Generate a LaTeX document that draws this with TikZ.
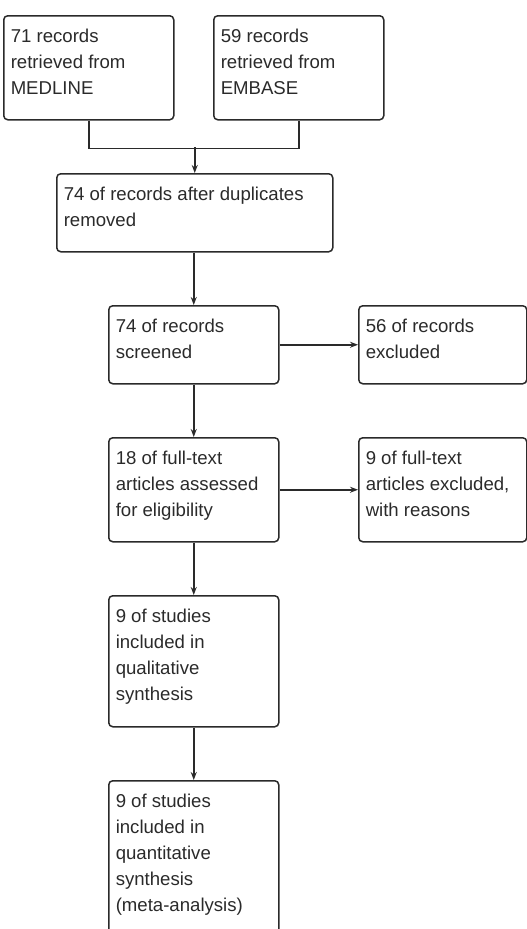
\documentclass[tikz,border=0pt]{standalone}
\usepackage{fontspec}
\setmainfont{Liberation Sans}
\usetikzlibrary{arrows.meta}
\definecolor{ink}{HTML}{2A2A2A}
\newcommand{\bxt}[3]{\parbox[c][#2][t]{#1}{\raggedright\setlength{\leftskip}{7pt}\fontsize{18.6}{26}\selectfont\rule{0pt}{27pt}#3}}
\tikzset{
  box/.style={draw=ink, text=ink, rounded corners=4pt, inner sep=0pt, anchor=north west, line width=1.5pt},
  conn/.style={draw=ink, line width=1.5pt},
  arr/.style={conn, -{Stealth[length=8pt,width=6pt]}}
}
\begin{document}
\begin{tikzpicture}[x=1pt,y=-1pt]
\useasboundingbox (0,0) rectangle (527,929);
\node[box] (b1) at (3,15) {\bxt{170pt}{104pt}{71 records\\retrieved from\\MEDLINE}};
\node[box] (b2) at (213,15) {\bxt{170pt}{104pt}{59 records\\retrieved from\\EMBASE}};
\node[box] (b3) at (56,173) {\bxt{276pt}{78pt}{74 of records after duplicates\\removed}};
\node[box] (b4) at (108,305) {\bxt{170pt}{78pt}{74 of records\\screened}};
\node[box] (b5) at (358,305) {\bxt{168pt}{78pt}{56 of records\\excluded}};
\node[box] (b6) at (108,437) {\bxt{170pt}{104pt}{18 of full-text\\articles assessed\\for eligibility}};
\node[box] (b7) at (358,437) {\bxt{168pt}{104pt}{9 of full-text\\articles excluded,\\with reasons}};
\node[box] (b8) at (108,595) {\bxt{170pt}{131pt}{9 of studies\\included in\\qualitative\\synthesis}};
\node[box] (b9) at (108,780) {\bxt{170pt}{158pt}{9 of studies\\included in\\quantitative\\synthesis\\(meta-analysis)}};
\draw[conn] (b1.south) -- ++(0,28) -| (b2.south);
\coordinate (m) at (b3.north |- 0,147);
\draw[arr] (m) -- (b3.north);
\draw[arr] (b3.south -| b4.north) -- (b4.north);
\draw[arr] (b4.east) -- (b5.west);
\draw[arr] (b4.south) -- (b6.north);
\draw[arr] (b6.east) -- (b7.west);
\draw[arr] (b6.south) -- (b8.north);
\draw[arr] (b8.south) -- (b9.north);
\end{tikzpicture}
\end{document}
